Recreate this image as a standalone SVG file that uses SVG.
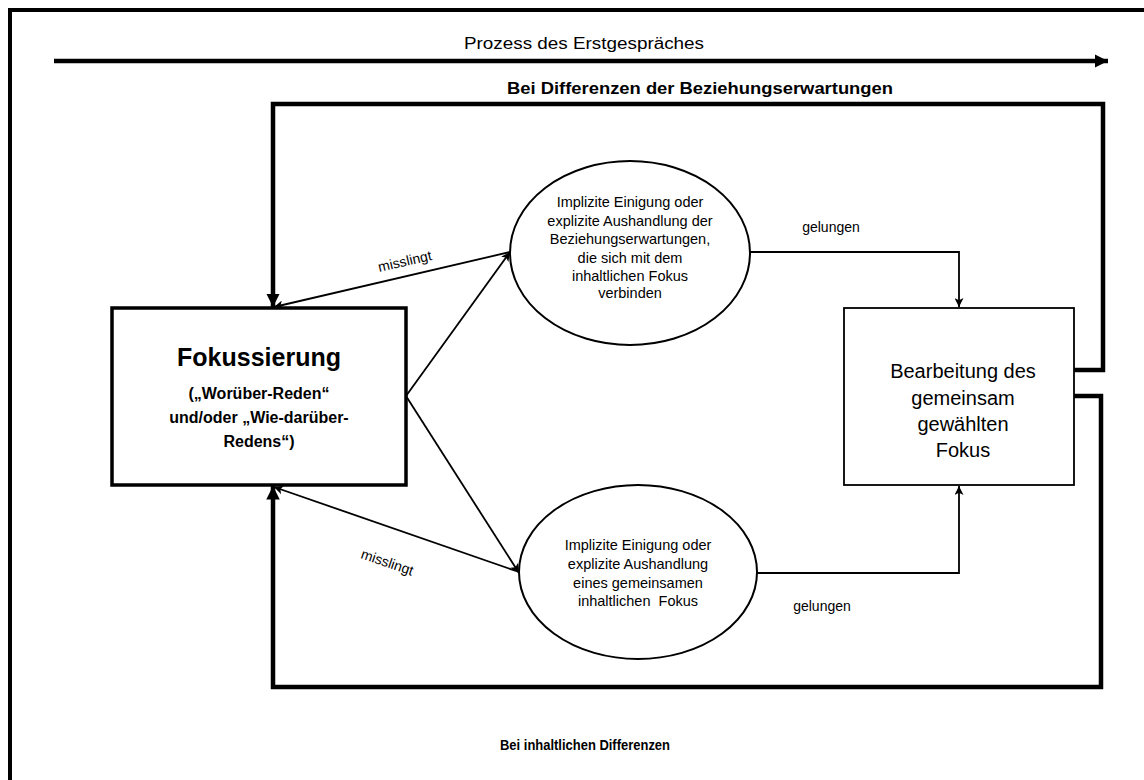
<svg xmlns="http://www.w3.org/2000/svg" width="1144" height="780" viewBox="0 0 1144 780">
  <style>
    text { font-family: "Liberation Sans", Arial, sans-serif; fill: #000; }
    .thick { fill: none; stroke: #000; stroke-width: 4.5; }
    .thin { fill: none; stroke: #000; stroke-width: 1.8; }
    .box { fill: #fff; stroke: #000; }
    .lbl { font-size: 14px; }
    .ell { font-size: 14.5px; text-anchor: middle; }
    .bold { font-weight: bold; }
  </style>
  <defs>
    <marker id="bigHead" viewBox="0 0 10 10" refX="10" refY="5" markerWidth="3" markerHeight="3.2" orient="auto" markerUnits="strokeWidth">
      <path d="M0,0 L10,5 L0,10 Z" fill="#000"/>
    </marker>
    <marker id="smallHead" viewBox="0 0 10 10" refX="10" refY="5" markerWidth="5.5" markerHeight="5" orient="auto" markerUnits="strokeWidth">
      <path d="M0,0 L10,5 L0,10 L2.5,5 Z" fill="#000"/>
    </marker>
  </defs>

  <rect width="1144" height="780" fill="#fff"/>
  <!-- page frame -->
  <rect x="10" y="10" width="1200" height="900" fill="none" stroke="#000" stroke-width="4"/>

  <!-- timeline -->
  <g id="timeline">
    <line x1="54" y1="61" x2="1108" y2="61" class="thick" stroke-width="4" marker-end="url(#bigHead)"/>
    <text x="584" y="49" font-size="16" text-anchor="middle" textLength="240" lengthAdjust="spacingAndGlyphs">Prozess des Erstgespräches</text>
  </g>

  <g id="connectors">
    <!-- feedback loops -->
    <path d="M1074,370 H1103 V104 H273 V307" class="thick" marker-end="url(#bigHead)"/>
    <path d="M1074,396 H1101 V687 H273 V486" class="thick" marker-end="url(#bigHead)"/>
    <!-- focus to negotiation -->
    <line x1="406" y1="396" x2="510" y2="252" class="thin" marker-end="url(#smallHead)"/>
    <line x1="406" y1="396" x2="519" y2="573" class="thin" marker-end="url(#smallHead)"/>
    <!-- failure returns -->
    <line x1="510" y1="252" x2="274" y2="307" class="thin" marker-end="url(#smallHead)"/>
    <line x1="519" y1="572" x2="274" y2="487" class="thin" marker-end="url(#smallHead)"/>
    <!-- success paths -->
    <path d="M749,252 H959 V307" class="thin" marker-end="url(#smallHead)"/>
    <path d="M757,573 H959 V486" class="thin" marker-end="url(#smallHead)"/>

    <text x="405" y="266" class="lbl" text-anchor="middle" transform="rotate(-13 405 262)">misslingt</text>
    <text x="387" y="567" class="lbl" text-anchor="middle" transform="rotate(19 387 563)">misslingt</text>
    <text x="831" y="232" class="lbl" text-anchor="middle">gelungen</text>
    <text x="822" y="611" class="lbl" text-anchor="middle">gelungen</text>
    <text x="700" y="94" font-size="16" class="bold" text-anchor="middle" textLength="386" lengthAdjust="spacingAndGlyphs">Bei Differenzen der Beziehungserwartungen</text>
    <text x="585" y="750" font-size="15" class="bold" text-anchor="middle" textLength="170" lengthAdjust="spacingAndGlyphs">Bei inhaltlichen Differenzen</text>
  </g>

  <g id="fokussierung">
    <rect x="112" y="308" width="294" height="177" class="box" stroke-width="3.5"/>
    <text x="259" y="366" font-size="25" class="bold" text-anchor="middle">Fokussierung</text>
    <text x="259" y="399" font-size="16" class="bold" text-anchor="middle">(„Worüber-Reden“</text>
    <text x="259" y="423" font-size="16" class="bold" text-anchor="middle">und/oder „Wie-darüber-</text>
    <text x="259" y="447" font-size="16" class="bold" text-anchor="middle">Redens“)</text>
  </g>

  <g id="beziehung">
    <ellipse cx="630" cy="253" rx="120" ry="92" class="box" stroke-width="2"/>
    <text class="ell" x="630" y="207">Implizite Einigung oder</text>
    <text class="ell" x="630" y="226">explizite Aushandlung der</text>
    <text class="ell" x="630" y="244">Beziehungserwartungen,</text>
    <text class="ell" x="630" y="263">die sich mit dem</text>
    <text class="ell" x="630" y="281">inhaltlichen Fokus</text>
    <text class="ell" x="630" y="298">verbinden</text>
  </g>

  <g id="inhalt">
    <ellipse cx="638" cy="572" rx="119" ry="87" class="box" stroke-width="2"/>
    <text class="ell" x="638" y="550">Implizite Einigung oder</text>
    <text class="ell" x="638" y="569">explizite Aushandlung</text>
    <text class="ell" x="638" y="588">eines gemeinsamen</text>
    <text class="ell" x="638" y="606" xml:space="preserve">inhaltlichen  Fokus</text>
  </g>

  <g id="bearbeitung">
    <rect x="844" y="308" width="230" height="177" class="box" stroke-width="1.8"/>
    <text x="963" y="378" font-size="20" text-anchor="middle">Bearbeitung des</text>
    <text x="963" y="405" font-size="20" text-anchor="middle">gemeinsam</text>
    <text x="963" y="431" font-size="20" text-anchor="middle">gewählten</text>
    <text x="963" y="457" font-size="20" text-anchor="middle">Fokus</text>
  </g>
</svg>
